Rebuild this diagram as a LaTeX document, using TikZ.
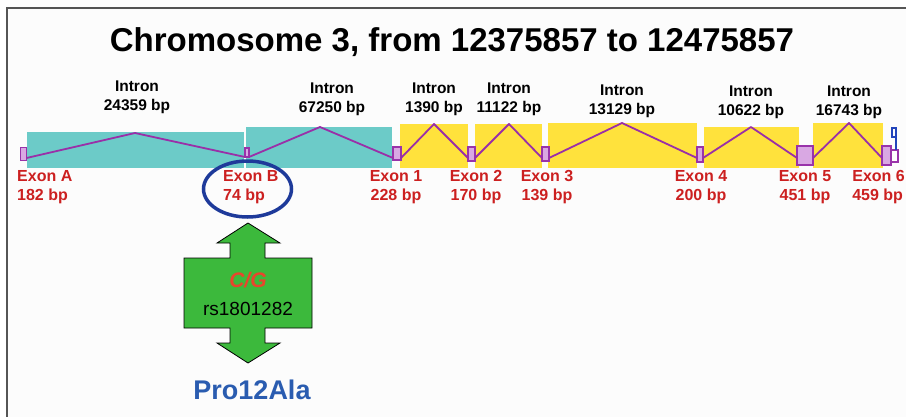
\documentclass[tikz,border=0pt]{standalone}
\usepackage{fontspec}
\setmainfont{Liberation Sans}
\usetikzlibrary{calc,shapes.geometric}

\definecolor{panelbg}{HTML}{FCFCFC}
\definecolor{framegray}{HTML}{555555}
\definecolor{intronteal}{HTML}{6CCBC8}
\definecolor{intronyellow}{HTML}{FFE23C}
\definecolor{splicecol}{HTML}{9A2FA8}
\definecolor{exonfill}{HTML}{D9A8E3}
\definecolor{exonedge}{HTML}{9933AA}
\definecolor{exonred}{HTML}{CC2020}
\definecolor{ringblue}{HTML}{1E3A9A}
\definecolor{snpgreen}{HTML}{3CB93C}
\definecolor{snpred}{HTML}{E8452C}
\definecolor{alablue}{HTML}{2A5CB0}
\definecolor{utrblue}{HTML}{2244BB}

\begin{document}
\begin{tikzpicture}[x=1pt,y=-1pt,
  exon/.style={draw=exonedge, fill=exonfill, line width=1.2pt, inner sep=0pt, outer sep=0pt},
  splice/.style={draw=splicecol, line width=1.8pt, line join=round},
  intronlbl/.style={font=\fontsize{15.5}{19}\selectfont\bfseries, align=center, inner sep=0pt},
  exonlbl/.style={font=\fontsize{16}{19}\selectfont\bfseries, text=exonred, inner sep=0pt},
]
\useasboundingbox (0,0) rectangle (906,416);
\clip (0,0) rectangle (906,416);
\fill[white] (0,0) rectangle (906,416);
% panel frame
\draw[fill=panelbg, draw=framegray, line width=2.5pt] (7,8) rectangle (940,450);

% title
\node[font=\fontsize{33}{36}\selectfont\bfseries, inner sep=0pt] (title) at (452,42)
  {Chromosome 3, from 12375857 to 12475857};

% intron blocks
\fill[intronteal]   (27,132)  rectangle (244,168);
\fill[intronteal]   (246,127) rectangle (392,168);
\fill[intronyellow] (400,124) rectangle (468,168);
\fill[intronyellow] (475,124) rectangle (542,168);
\fill[intronyellow] (548,123) rectangle (697,168);
\fill[intronyellow] (704,127) rectangle (799,168);
\fill[intronyellow] (813,123) rectangle (883,168);

% splice peaks
\coordinate (p1) at (135,133);
\coordinate (p2) at (320,127);
\coordinate (p3) at (434,124);
\coordinate (p4) at (509,124);
\coordinate (p5) at (622,123);
\coordinate (p6) at (751,127);
\coordinate (p7) at (849,123);

% exons
\node[exon, minimum width=6pt,  minimum height=13pt] (eA) at (23.5,154) {};
\node[exon, minimum width=4pt,  minimum height=9pt]  (eB) at (247,152.5) {};
\node[exon, minimum width=8pt,  minimum height=13pt] (e1) at (397,153.5) {};
\node[exon, minimum width=7pt,  minimum height=14pt] (e2) at (471.5,154) {};
\node[exon, minimum width=7pt,  minimum height=14pt] (e3) at (545.5,154) {};
\node[exon, minimum width=6pt,  minimum height=15pt] (e4) at (700,154.5) {};
\node[exon, minimum width=16pt, minimum height=19pt] (e5) at (805,155.5) {};
\node[draw=exonedge, fill=white, line width=1.2pt, minimum width=7pt, minimum height=12pt, inner sep=0pt] (e6b) at (894.5,156) {};
\node[exon, minimum width=9pt,  minimum height=19pt] (e6) at (886.5,155.5) {};
% 3' end marker
\draw[utrblue, line width=1.5pt] (896,150) -- (896,128) -- (892,128) -- (892,137) -- (896,137);

% splicing connectors
\draw[splice] ($(eA.south east)+(0,-2.5)$) -- (p1) -- (eB.south west);
\draw[splice] (eB.south east) -- (p2) -- ($(e1.south west)+(0,-2)$);
\draw[splice] ($(e1.south east)+(0,-2)$) -- (p3) -- ($(e2.south west)+(0,-3)$);
\draw[splice] ($(e2.south east)+(0,-3)$) -- (p4) -- ($(e3.south west)+(0,-3)$);
\draw[splice] ($(e3.south east)+(0,-3)$) -- (p5) -- ($(e4.south west)+(0,-4)$);
\draw[splice] ($(e4.south east)+(0,-4)$) -- (p6) -- ($(e5.south west)+(0,-7)$);
\draw[splice] ($(e5.south east)+(0,-7)$) -- (p7) -- ($(e6.south west)+(0,-7)$);

% intron labels
\node[intronlbl] (i1) at (137,97.5) {Intron\\24359 bp};
\node[intronlbl] (i2) at (332,99)   {Intron\\67250 bp};
\node[intronlbl] (i3) at (434,99)   {Intron\\1390 bp};
\node[intronlbl] (i4) at (509,99)   {Intron\\11122 bp};
\node[intronlbl] (i5) at (622,101)  {Intron\\13129 bp};
\node[intronlbl] (i6) at (751,102)  {Intron\\10622 bp};
\node[intronlbl] (i7) at (849,102)  {Intron\\16743 bp};

% exon labels
\node[exonlbl, align=left, anchor=west] (lA) at (17,187.5) {Exon A\\182 bp};
\node[exonlbl, align=left, anchor=west] (lB) at (223,187.5) {Exon B\\74 bp};
\node[exonlbl, align=center] (l1) at (396,187.5) {Exon 1\\228 bp};
\node[exonlbl, align=center] (l2) at (476,187.5) {Exon 2\\170 bp};
\node[exonlbl, align=center] (l3) at (547,187.5) {Exon 3\\139 bp};
\node[exonlbl, align=center] (l4) at (701,187.5) {Exon 4\\200 bp};
\node[exonlbl, align=center] (l5) at (805,187.5) {Exon 5\\451 bp};
\node[exonlbl, align=left, anchor=east] (l6) at (905,187.5) {Exon 6\\459 bp};

% highlight ring around exon B
\node[draw=ringblue, line width=3.5pt, ellipse, minimum width=88pt, minimum height=56pt, inner sep=0pt] (ring) at (247.5,189) {};

% SNP double arrow
\draw[fill=snpgreen, draw=black, line width=0.8pt, line join=miter]
  (248,223) -- (280,243) -- (265,243) -- (265,258) -- (312,258) -- (312,328)
  -- (265,328) -- (265,343) -- (280,343) -- (248,363) -- (217,343) -- (230,343)
  -- (230,328) -- (184,328) -- (184,258) -- (230,258) -- (230,243) -- (217,243) -- cycle;
\node[font=\fontsize{21}{24}\selectfont\bfseries\itshape, text=snpred, inner sep=0pt] (allele) at (248,280) {C/G};
\node[font=\fontsize{19}{22}\selectfont, inner sep=0pt] (rsid) at (248,309) {rs1801282};

% amino-acid change
\node[font=\fontsize{27}{30}\selectfont\bfseries, text=alablue, inner sep=0pt] (aa) at (252,390) {Pro12Ala};
\end{tikzpicture}
\end{document}
